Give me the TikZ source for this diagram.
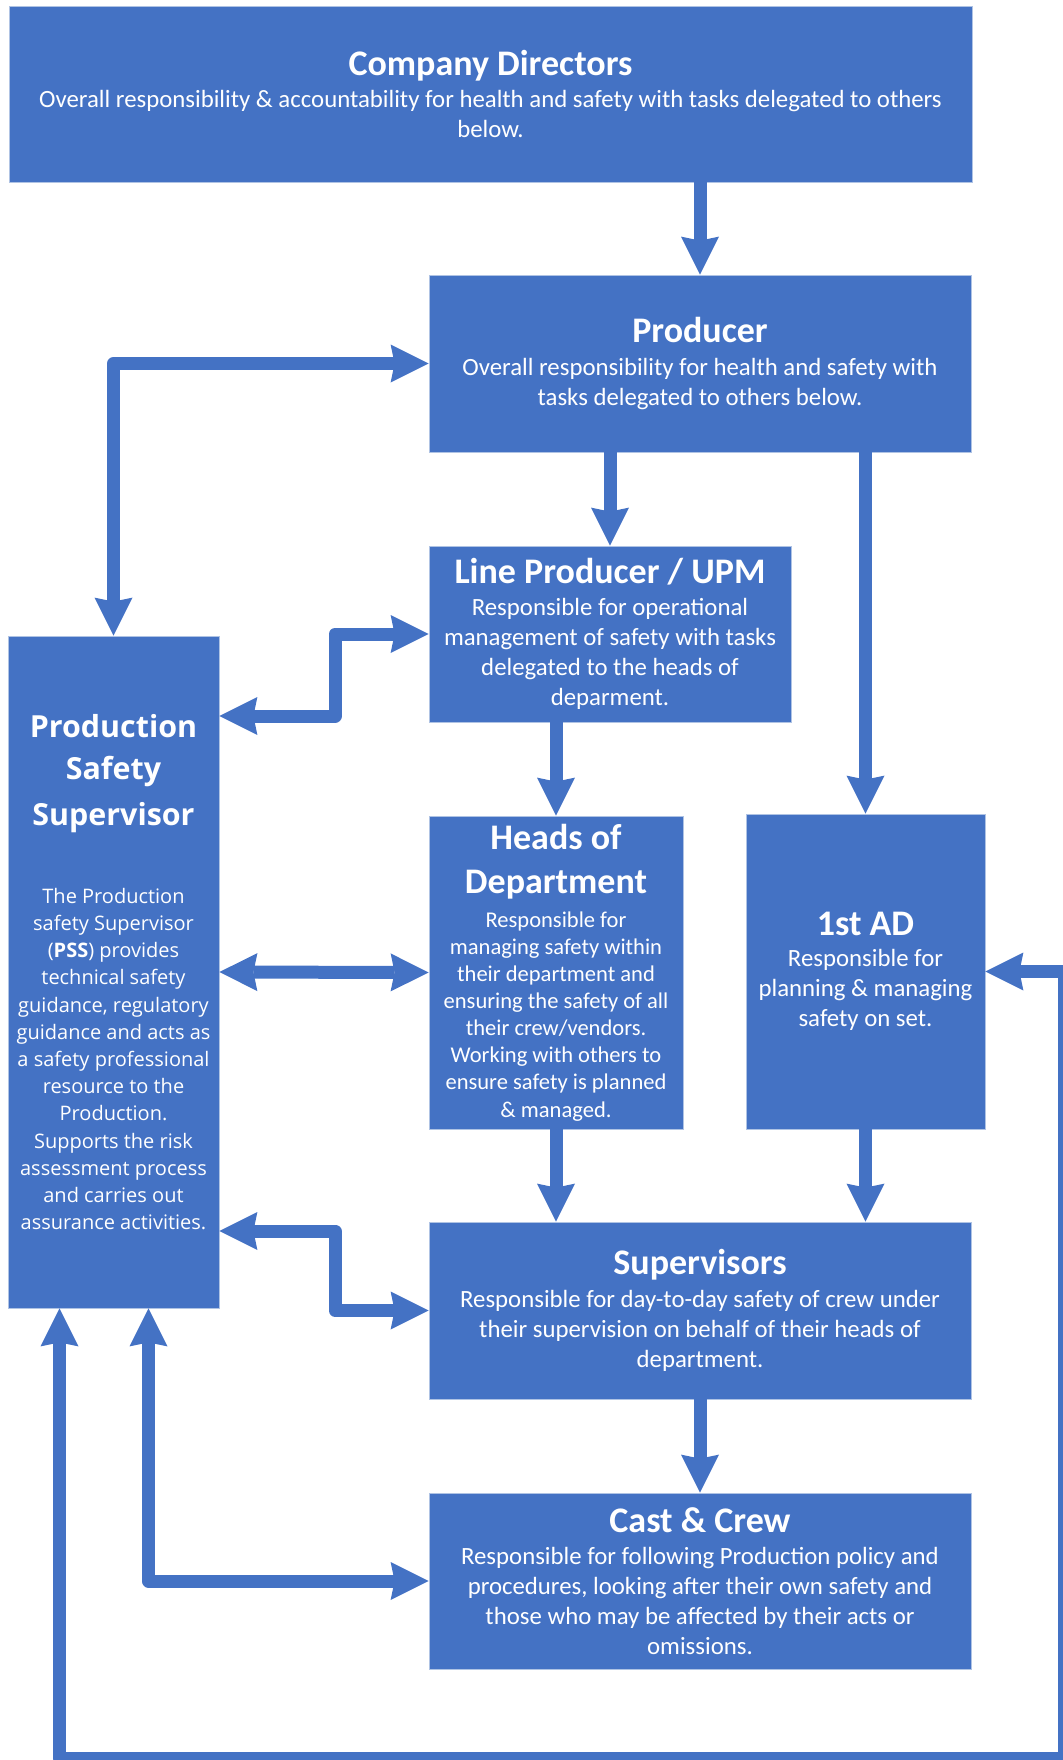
\documentclass[tikz,border=0pt]{standalone}
\usepackage{fontspec}
\setmainfont{Carlito}
\newfontfamily\pssfont{Open Sans}
\usetikzlibrary{arrows.meta}

\definecolor{boxblue}{RGB}{68,114,196}
\definecolor{boxedge}{RGB}{175,195,228}

\newcommand{\boxtitle}[1]{{\bfseries\fontsize{27}{33}\selectfont #1}}
\newcommand{\psstitle}[1]{{\bfseries\fontsize{22.8}{33}\selectfont #1}}

\begin{document}
\begin{tikzpicture}[x=0.75pt,y=-0.75pt]
  \tikzset{
    orgbox/.style 2 args={fill=boxblue, draw=boxedge, line width=0.6pt,
      text=white, align=center, inner sep=0pt,
      minimum width=#1*0.75pt, minimum height=#2*0.75pt,
      font=\fontsize{18.6}{22.5}\selectfont},
    link/.style={draw=boxblue, line width=9.75pt, line join=round,
      >={Stealth[length=28.5pt, width=28.5pt, inset=3pt, line width=0pt]}}
  }
  \useasboundingbox (0,0) rectangle (1063,1760);

  \node[orgbox={963}{176}] (dirs) at (490.5,94)
    {\boxtitle{Company Directors}\\[2pt]
     Overall responsibility \& accountability for health and safety with tasks delegated to others\\
     below.};
  \node[orgbox={542}{177}] (prod) at (700,363.5)
    {\boxtitle{Producer}\\[2pt]
     Overall responsibility for health and safety with\\
     tasks delegated to others below.};
  \node[orgbox={362}{176}] (lp) at (610,634)
    {\boxtitle{Line Producer / UPM}\\[2pt]
     Responsible for operational\\
     management of safety with tasks\\
     delegated to the heads of\\
     deparment.};
  \node[orgbox={254}{313}, font=\fontsize{16.9}{20.3}\selectfont] (hd) at (556,972.5)
    {\boxtitle{Heads of}\\[13pt]\boxtitle{Department}\\[5pt]
     Responsible for\\
     managing safety within\\
     their department and\\
     ensuring the safety of all\\
     their crew/vendors.\\
     Working with others to\\
     ensure safety is planned\\
     \& managed.};
  \node[orgbox={239}{315}] (ad) at (865.5,971.5)
    {\boxtitle{1st AD}\\[1pt]
     Responsible for\\
     planning \& managing\\
     safety on set.};
  \node[orgbox={542}{177}] (sup) at (700,1310.5)
    {\boxtitle{Supervisors}\\[2pt]
     Responsible for day-to-day safety of crew under\\
     their supervision on behalf of their heads of\\
     department.};
  \node[orgbox={542}{176}] (cast) at (700,1581)
    {\boxtitle{Cast \& Crew}\\[2pt]
     Responsible for following Production policy and\\
     procedures, looking after their own safety and\\
     those who may be affected by their acts or\\
     omissions.};
  \node[orgbox={211}{672}, font=\pssfont\fontsize{15}{20.4}\selectfont] (pss) at (113.5,972)
    {\psstitle{Production}\\[11pt]\psstitle{Safety}\\[11pt]\psstitle{Supervisor}\\[38pt]
     The Production\\
     safety Supervisor\\
     (\textbf{PSS}) provides\\
     technical safety\\
     guidance, regulatory\\
     guidance and acts as\\
     a safety professional\\
     resource to the\\
     Production.\\
     Supports the risk\\
     assessment process\\
     and carries out\\
     assurance activities.};

  \coordinate (lpjog) at (335,716);
  \coordinate (supjog) at (335,1231);
  \coordinate (castjog) at (148.5,1581);
  \coordinate (loopsw) at (59.5,1758);
  \coordinate (loopse) at (1064,1758);

  \foreach \from/\to in {dirs/prod, prod/lp, prod/ad, lp/hd, sup/cast}
    \draw[link,->] (\from.south -| \to.north) -- (\to.north);
  \foreach \from in {hd, ad}
    \draw[link,->] (\from.south) -- (\from.south |- sup.north);

  \draw[link,<->] (pss.north) |- (prod.west);
  \draw[link,<->] (pss.east |- lpjog) -- (lpjog) |- (lp.west);
  \draw[link,<->] (pss.east) -- (hd.west);
  \draw[link,<->] (pss.east |- supjog) -- (supjog) |- (sup.west);
  \draw[link,<->] (pss.south -| castjog) |- (cast.west);
  \draw[link,<->] (pss.south -| loopsw) -- (loopsw) -- (loopse) |- (ad.east);
\end{tikzpicture}
\end{document}
